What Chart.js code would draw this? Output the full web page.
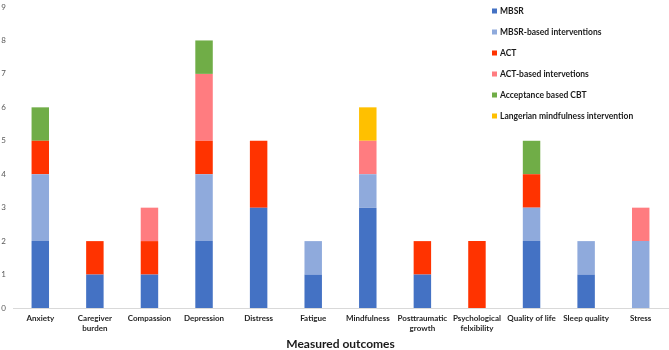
<!DOCTYPE html>
<html>
<head>
<meta charset="utf-8">
<script src="https://cdn.jsdelivr.net/npm/chart.js@4/dist/chart.umd.min.js"></script>
<style>
  html, body { margin: 0; padding: 0; background: #fff; }
  #wrap { width: 669px; height: 350px; position: relative; }
</style>
</head>
<body>
<div id="wrap"><canvas id="chart"></canvas></div>
<script>
const categories = [
    'Anxiety', ['Caregiver', 'burden'], 'Compassion', 'Depression', 'Distress', 'Fatigue',
    'Mindfulness', ['Posttraumatic', 'growth'], ['Psychological', 'felxibility'],
    'Quality of life', 'Sleep quality', 'Stress'
];
const mbsr          = [2, 1, 1, 2, 3, 1, 3, 1, 0, 2, 1, 0];
const mbsrBased     = [2, 0, 0, 2, 0, 1, 1, 0, 0, 1, 1, 2];
const act           = [1, 1, 1, 1, 2, 0, 0, 1, 2, 1, 0, 0];
const actBased      = [0, 0, 1, 2, 0, 0, 1, 0, 0, 0, 0, 1];
const acceptanceCbt = [1, 0, 0, 1, 0, 0, 0, 0, 0, 1, 0, 0];
const langerian     = [0, 0, 0, 0, 0, 0, 1, 0, 0, 0, 0, 0];
const yTicks = [0, 1, 2, 3, 4, 5, 6, 7, 8, 9];

const FONT = 'Lato, "Open Sans", sans-serif';

// legend drawn in the upper right of the plot, like the original
const sideLegend = {
    id: 'sideLegend',
    afterDraw(chart) {
        const ctx = chart.ctx;
        ctx.save();
        ctx.font = 'bold 8.5px ' + FONT;
        ctx.textBaseline = 'middle';
        chart.data.datasets.forEach((ds, i) => {
            const y = 11 + i * 21;
            ctx.fillStyle = ds.backgroundColor;
            ctx.fillRect(492, y - 2.5, 5, 5);
            ctx.fillStyle = '#1a1a1a';
            ctx.fillText(ds.label, 500, y);
        });
        ctx.restore();
    }
};

const barPct = 0.32;

new Chart(document.getElementById('chart').getContext('2d'), {
    type: 'bar',
    data: {
        labels: categories,
        datasets: [{
            label: 'MBSR',
            data: mbsr,
            backgroundColor: '#4472C4'
        }, {
            label: 'MBSR-based interventions',
            data: mbsrBased,
            backgroundColor: '#8FAADC'
        }, {
            label: 'ACT',
            data: act,
            backgroundColor: '#FF3300'
        }, {
            label: 'ACT-based intervetions',
            data: actBased,
            backgroundColor: '#FF7C80'
        }, {
            label: 'Acceptance based CBT',
            data: acceptanceCbt,
            backgroundColor: '#70AD47'
        }, {
            label: 'Langerian mindfulness intervention',
            data: langerian,
            backgroundColor: '#FFC000'
        }]
    },
    options: {
        responsive: true,
        maintainAspectRatio: false,
        animation: false,
        datasets: {
            bar: { barPercentage: barPct, categoryPercentage: 1 }
        },
        layout: { padding: { top: 7, right: 1, left: 0, bottom: 0 } },
        plugins: {
            legend: { display: false },
            tooltip: { enabled: false }
        },
        scales: {
            x: {
                stacked: true,
                grid: { display: false, drawTicks: false },
                border: { display: true, color: '#d9d9d9', width: 1 },
                afterFit(scale) {
                    scale.height = 42;
                },
                ticks: {
                    color: '#262626',
                    font: { family: FONT, size: 8, weight: 'bold' },
                    maxRotation: 0,
                    autoSkip: false,
                    padding: 6
                },
                title: {
                    display: true,
                    text: 'Measured outcomes',
                    color: '#1a1a1a',
                    font: { family: FONT, size: 12, weight: 'bold', lineHeight: 1 },
                    padding: { top: 3, bottom: 0 }
                }
            },
            y: {
                stacked: true,
                min: 0,
                max: yTicks[yTicks.length - 1],
                grid: { display: false, drawTicks: false },
                border: { display: false },
                afterBuildTicks(scale) {
                    scale.ticks = yTicks.map(v => ({ value: v }));
                },
                afterFit(scale) {
                    scale.width = 13;
                    scale.paddingTop = 0;
                    scale.paddingBottom = 0;
                },
                ticks: {
                    color: '#595959',
                    font: { family: FONT, size: 8, lineHeight: 0.5 },
                    padding: 7
                }
            }
        }
    },
    plugins: [sideLegend]
});
</script>
</body>
</html>
